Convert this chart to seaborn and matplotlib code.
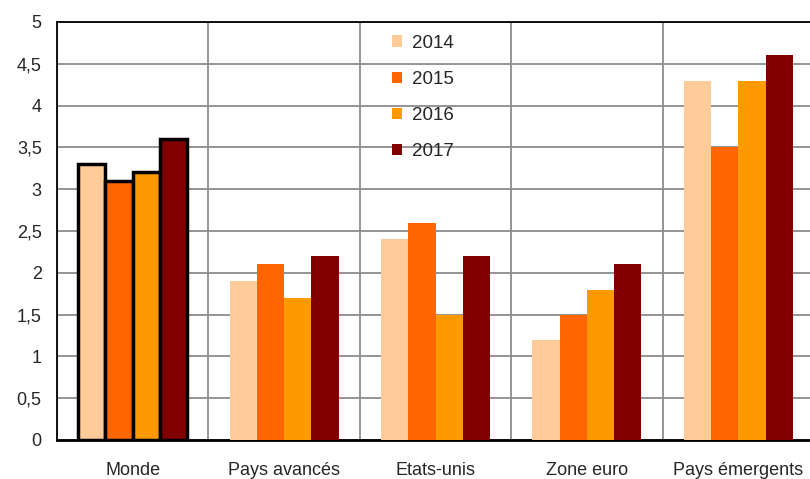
import pandas as pd
import matplotlib
matplotlib.use("Agg")
import matplotlib.pyplot as plt
import seaborn as sns
from matplotlib.patches import Patch

# --------------------------------------------------
# Data
# --------------------------------------------------

regions = ["Monde", "Pays avancés", "Etats-unis", "Zone euro", "Pays émergents"]
years = ["2014", "2015", "2016", "2017"]

growth_2014 = [3.3, 1.9, 2.4, 1.2, 4.3]
growth_2015 = [3.1, 2.1, 2.6, 1.5, 3.5]
growth_2016 = [3.2, 1.7, 1.5, 1.8, 4.3]
growth_2017 = [3.6, 2.2, 2.2, 2.1, 4.6]

colors = ["#FFCC99", "#FF6600", "#FF9900", "#800000"]

rows = []
for year, values in zip(years, [growth_2014, growth_2015, growth_2016, growth_2017]):
    for region, v in zip(regions, values):
        rows.append({"region": region, "year": year, "value": v})
df = pd.DataFrame(rows)

# --------------------------------------------------
# Plot
# --------------------------------------------------

sns.set_style("white")
plt.rcParams["font.family"] = ["Liberation Sans", "DejaVu Sans"]

fig = plt.figure(figsize=(8.10, 4.79), dpi=100)
ax = fig.add_axes([57 / 810, 39 / 479, 757 / 810, 418 / 479])

sns.barplot(
    data=df,
    x="region",
    y="value",
    hue="year",
    order=regions,
    hue_order=years,
    palette=colors,
    width=0.72,
    saturation=1,
    linewidth=0,
    legend=False,
    ax=ax
)

# black outline on the "Monde" bars
for container in ax.containers:
    bar = container.patches[0]
    bar.set_edgecolor("black")
    bar.set_linewidth(2.5)
    for b in container.patches:
        b.set_zorder(3)

ax.set_xlim(-0.5, 4.5)
ax.set_ylim(0, 5)
ax.set_yticks([i * 0.5 for i in range(11)])
ax.set_yticklabels([f"{i * 0.5:g}".replace(".", ",") for i in range(11)], fontsize=13)

ax.set_xticks(range(len(regions)))
ax.set_xticklabels(regions, fontsize=13)
ax.set_xticks([i - 0.5 for i in range(len(regions) + 1)], minor=True)
ax.tick_params(axis="x", which="major", length=0, pad=16)
ax.tick_params(axis="x", which="minor", length=5, width=1.2, color="black", direction="out")
ax.tick_params(axis="y", which="major", length=0, pad=11)

ax.grid(axis="y", which="major", color="#8c8c8c", linewidth=1.3, zorder=0)
ax.grid(axis="x", which="minor", color="#8c8c8c", linewidth=1.3, zorder=0)
ax.set_axisbelow(True)

ax.set_xlabel("")
ax.set_ylabel("")

for side in ["left", "bottom", "top"]:
    ax.spines[side].set_color("black")
ax.spines["left"].set_linewidth(1.3)
ax.spines["top"].set_linewidth(1.3)
ax.spines["bottom"].set_linewidth(2)
ax.spines["right"].set_visible(False)

handles = [Patch(facecolor=c, edgecolor="none", label=y) for c, y in zip(colors, years)]
ax.legend(
    handles=handles,
    loc="upper left",
    bbox_to_anchor=(0.42, 1.01),
    frameon=False,
    fontsize=13.5,
    handlelength=0.55,
    handleheight=0.55,
    handletextpad=0.5,
    labelspacing=1.02
)

plt.savefig("out.png", dpi=100)
